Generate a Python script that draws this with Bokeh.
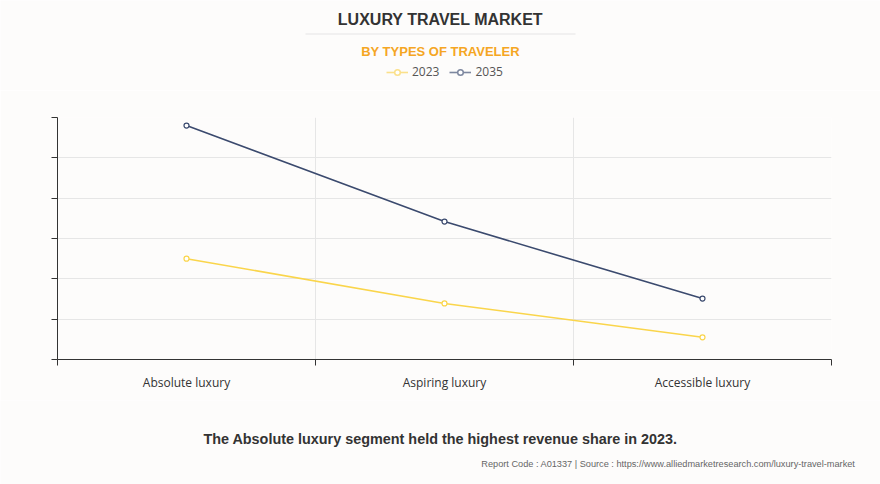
from bokeh.plotting import figure
from bokeh.layouts import column, row
from bokeh.models import (Range1d, FixedTicker, Label, Legend, LegendItem)
from bokeh.embed import file_html
from bokeh.resources import INLINE

categories = ["Absolute luxury", "Aspiring luxury", "Accessible luxury"]
series_names = ["2023", "2035"]
values_2023 = [2.50, 1.39, 0.55]
values_2035 = [5.80, 3.42, 1.51]
colors = ["#fad54b", "#3b4a6e"]
legend_colors = ["#fbe08a", "#7d879f"]

W = 880
BG = "#fdfcfb"
HEAD_H, MAIN_H, FOOT_H = 90, 310, 84
FL, FR = 57, 831  # plot frame left / right in page pixels


def blank_fig(h):
    f = figure(width=W, height=h, output_backend="svg", toolbar_location=None,
               x_range=Range1d(0, W), y_range=Range1d(h, 0),
               x_axis_type=None, y_axis_type=None, min_border=0,
               background_fill_color=BG, border_fill_color=BG, outline_line_color=None)
    f.grid.visible = False
    return f


def add_label(f, txt, x, y, size, color, style="normal", font="Liberation Sans", align="center"):
    f.add_layout(Label(x=x, y=y, text=txt, text_font=font, text_font_size=size,
                       text_color=color, text_font_style=style, text_align=align,
                       text_baseline="middle"))


# header
head = blank_fig(HEAD_H)
add_label(head, "LUXURY TRAVEL MARKET", 440, 19, "16px", "#333333", "bold")
head.segment(x0=[305], y0=[33.5], x1=[575], y1=[33.5], line_color="#ececec", line_width=1.5)
add_label(head, "BY TYPES OF TRAVELER", 440, 51, "13px", "#f5a623", "bold")
leg_items = []
for name, col in zip(series_names, legend_colors):
    # legend-only renderers, placed outside the visible range
    ln = head.line([-1000, -999], [-1000, -1000], line_color=col, line_width=1.6)
    sc = head.scatter([-1000], [-1000], marker="circle", size=9, line_color=col,
                      fill_color="white", line_width=1.5)
    leg_items.append(LegendItem(label=name, renderers=[ln, sc]))
legend = Legend(items=leg_items, orientation="horizontal", location=(386, HEAD_H - 80),
                label_text_font="Open Sans", label_text_font_size="12px",
                label_text_color="#555555", glyph_width=22, glyph_height=14,
                spacing=10, label_standoff=4, padding=0, margin=0,
                background_fill_alpha=0, border_line_color=None)
head.add_layout(legend)

# main chart
p = figure(width=W, height=MAIN_H, output_backend="svg", toolbar_location=None,
           x_range=Range1d(0, len(categories)), y_range=Range1d(0, 6),
           min_border_left=FL, min_border_right=W - FR, min_border_top=117 - HEAD_H,
           min_border_bottom=HEAD_H + MAIN_H - 359, background_fill_color=BG,
           border_fill_color=BG, outline_line_color=None)

xs = [i + 0.5 for i in range(len(categories))]
for vals, col in zip([values_2023, values_2035], colors):
    p.line(xs, vals, line_color=col, line_width=1.6)
    p.scatter(xs, vals, marker="circle", size=5, line_color=col,
              fill_color="white", line_width=1.2)

p.xaxis.ticker = FixedTicker(ticks=xs, minor_ticks=list(range(len(categories) + 1)))
p.xaxis.major_label_overrides = {x: c for x, c in zip(xs, categories)}
p.xaxis.major_tick_out = 0
p.xaxis.major_tick_in = 0
p.xaxis.minor_tick_out = 6
p.xaxis.minor_tick_in = 0
p.xaxis.minor_tick_line_color = "#333333"
p.xaxis.axis_line_color = "#333333"
p.xaxis.major_label_text_font = "Open Sans"
p.xaxis.major_label_text_font_size = "12px"
p.xaxis.major_label_text_color = "#333333"
p.xaxis.major_label_standoff = 8
p.xgrid.ticker = FixedTicker(ticks=list(range(len(categories) + 1)))
p.xgrid.grid_line_color = "#e6e6e6"

p.yaxis.ticker = FixedTicker(ticks=[0, 1, 2, 3, 4, 5, 6])
p.yaxis.major_label_text_font_size = "0px"
p.yaxis.major_tick_out = 6
p.yaxis.major_tick_in = 0
p.yaxis.minor_tick_line_color = None
p.yaxis.axis_line_color = "#333333"
p.yaxis.major_tick_line_color = "#333333"
p.ygrid.grid_line_color = "#e6e6e6"

# footer
foot = blank_fig(FOOT_H)
top = HEAD_H + MAIN_H
add_label(foot, "The Absolute luxury segment held the highest revenue share in 2023.",
          440, 438 - top, "14.4px", "#333333", "bold")
add_label(foot, "Report Code : A01337  |  Source : https://www.alliedmarketresearch.com/luxury-travel-market",
          860, 463 - top, "9.2px", "#666666", align="right")

layout = column(row(head), p, row(foot), spacing=0)
html = file_html(layout, INLINE)
html = html.replace("<head>", "<head><style>html,body{margin:0;padding:0;}</style>", 1)
open("out.html", "w").write(html)
